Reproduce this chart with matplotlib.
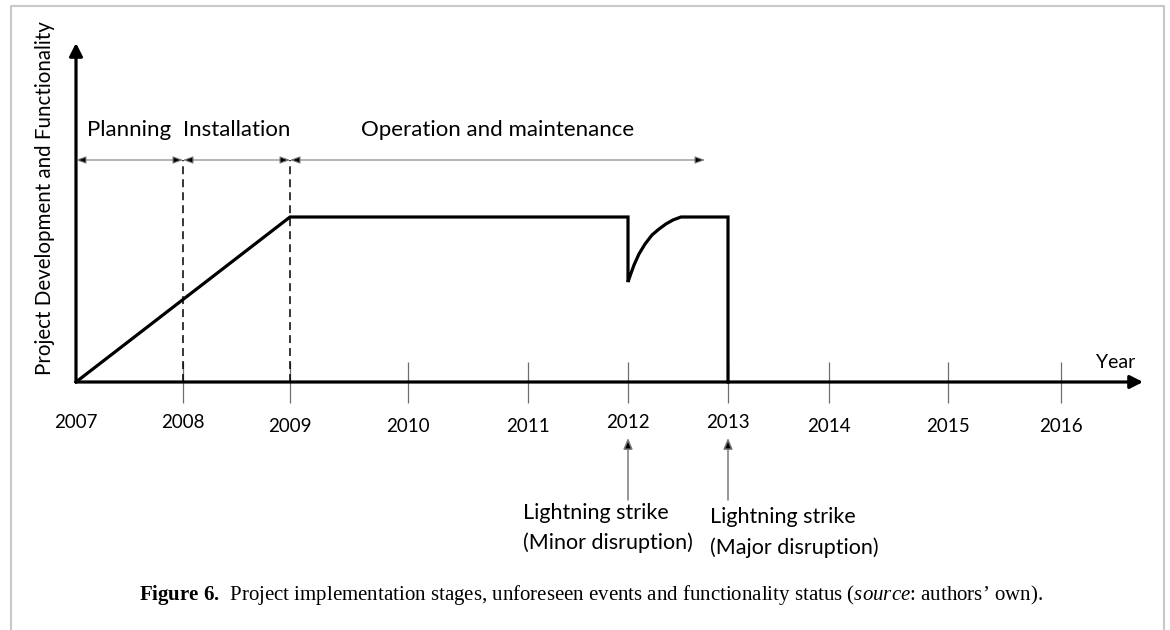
import numpy as np
import matplotlib
matplotlib.use("Agg")
import matplotlib.pyplot as plt
from matplotlib.lines import Line2D

# ---------------- data ----------------
tick_years = [2007, 2008, 2009, 2010, 2011, 2012, 2013, 2014, 2015, 2016]
tick_labels = ["2007", "2008", "2009", "2010", "2011", "2012", "2013", "2014", "2015", "2016"]

# functionality status (plateau = 1)
func_years = [2007, 2009, 2012, 2012.0, 2012.027, 2012.06, 2012.11, 2012.17,
              2012.24, 2012.31, 2012.38, 2012.45, 2012.53, 2013, 2013]
func_values = [0, 1, 1, 0.606, 0.654, 0.709, 0.776, 0.836,
               0.891, 0.927, 0.958, 0.982, 1.0, 1.0, 0]

phase_names = ["Planning", "Installation", "Operation and maintenance"]
phase_start = [2007, 2008, 2009]
phase_end = [2008, 2009, 2012.77]
phase_dividers = [2008, 2009]

event_years = [2012, 2013]
event_line1 = ["Lightning strike", "Lightning strike"]
event_line2 = ["(Minor disruption)", "(Major disruption)"]

y_label = "Project Development and Functionality"
x_label = "Year"

# ---------------- layout ----------------
W, H = 1170, 630
tick_px = [76, 183, 290, 408, 528, 628, 728, 829, 948, 1061]   # hand-drawn axis spacing
label_row = [422, 422, 426, 426, 426, 422, 423, 426, 426, 426]
anchor_years = [2006.0] + tick_years + [2017.5]
anchor_px = [tick_px[0] - 100] + tick_px + [tick_px[-1] + 150]
AX_Y = 382      # pixel row of the time axis
UNIT = 165      # pixels per functionality unit


def fwd(y):
    return np.interp(y, anchor_years, anchor_px)


def inv(p):
    return np.interp(p, anchor_px, anchor_years)


def vy(px):
    return (AX_Y - px) / UNIT


plt.rcParams["font.family"] = ["Lato", "DejaVu Sans"]

fig = plt.figure(figsize=(W / 100, H / 100), dpi=100)
ax = fig.add_axes([0, 0, 1, 1])
ax.set_xscale("function", functions=(fwd, inv))
ax.set_xlim(inv(0), inv(W))
ax.set_ylim(vy(H), vy(0))
ax.axis("off")

# frame
fx = [11 / W, 11 / W, 1164 / W, 1164 / W]
fy = [0, 1 - 6 / H, 1 - 6 / H, 0]
fig.add_artist(Line2D(fx, fy, transform=fig.transFigure, color="#c8c8c8", lw=1.5))

# axes arrows
arrow_kw = dict(arrowstyle="-|>,head_length=0.55,head_width=0.28", lw=2.3,
                color="black", mutation_scale=14, shrinkA=0, shrinkB=0)
ax.annotate("", xy=(tick_years[0], vy(43)), xytext=(tick_years[0], 0), arrowprops=arrow_kw)
ax.annotate("", xy=(inv(1143), 0), xytext=(tick_years[0], 0), arrowprops=arrow_kw)

# ticks and labels
ax.vlines(tick_years[1:], vy(403), vy(362), color="#6f6f6f", lw=0.9, zorder=1)
for yr, lab, row in zip(tick_years, tick_labels, label_row):
    ax.text(yr, vy(row), lab, ha="center", va="center", fontsize=13.5)
ax.text(inv(1096), vy(363), x_label, ha="left", va="center", fontsize=14)

# phase dividers (dashed)
ax.vlines(phase_dividers, 0, vy(160), color="black", lw=1.1,
          linestyles=(0, (5.2, 3.3)), zorder=2)

# phase arrows and labels
for name, s, e in zip(phase_names, phase_start, phase_end):
    ax.annotate("", xy=(e, vy(160)), xytext=(s, vy(160)),
                arrowprops=dict(arrowstyle="<|-|>,head_length=0.6,head_width=0.22",
                                lw=0.8, ec="#7a7a7a", fc="black", mutation_scale=10,
                                shrinkA=0, shrinkB=0))
    mid = inv((fwd(s) + fwd(e)) / 2)
    ax.text(mid, vy(130), name, ha="center", va="center", fontsize=16)

# functionality line
ax.plot(func_years, func_values, color="black", lw=2.3, solid_joinstyle="miter", zorder=3)

# events
text_left = [523, 710]
line1_row = [513, 517]
line2_row = [543, 548]
for yr, l1, l2, tl, r1, r2 in zip(event_years, event_line1, event_line2,
                                  text_left, line1_row, line2_row):
    ax.annotate("", xy=(yr, vy(438)), xytext=(yr, vy(500)),
                arrowprops=dict(arrowstyle="-|>,head_length=0.6,head_width=0.25",
                                lw=1.1, ec="#7a7a7a", fc="black", mutation_scale=11,
                                shrinkA=0, shrinkB=0))
    ax.text(inv(tl), vy(r1), l1, ha="left", va="center", fontsize=15.5)
    ax.text(inv(tl), vy(r2), l2, ha="left", va="center", fontsize=15.5)

# y label
fig.text(45 / W, 1 - 198 / H, y_label, rotation=90, ha="center", va="center", fontsize=14.8)

# caption
plt.rcParams["mathtext.fontset"] = "custom"
plt.rcParams["mathtext.rm"] = "Liberation Serif"
plt.rcParams["mathtext.bf"] = "Liberation Serif:bold"
plt.rcParams["mathtext.it"] = "Liberation Serif:italic"
caption = (r"$\mathbf{Figure\ 6.}\,$ Project implementation stages, unforeseen events and "
           r"functionality status ($\mathit{source}$: authors’ own).")
fig.text(591 / W, 1 - 595 / H, caption, ha="center", va="center", fontsize=15,
         family="Liberation Serif")

fig.savefig("out.png", dpi=100)
